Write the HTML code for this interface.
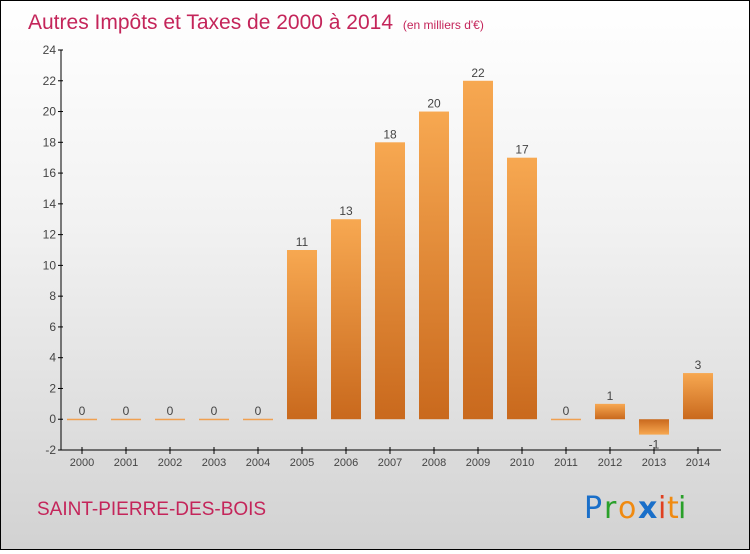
<!DOCTYPE html>
<html><head><meta charset="utf-8">
<style>
html,body{margin:0;padding:0;}
body{width:750px;height:550px;overflow:hidden;font-family:"Liberation Sans","DejaVu Sans",sans-serif;}
#frame{position:absolute;left:0;top:0;width:748px;height:548px;border:1px solid #000;background:linear-gradient(#ffffff 0%,#f2f2f2 40%,#d2d2d2 100%);}
</style></head>
<body>
<div id="frame">
<svg id="chart" width="748" height="548" xmlns="http://www.w3.org/2000/svg">
<defs>
<linearGradient id="barg" x1="0" y1="0" x2="0" y2="1">
<stop offset="0" stop-color="#f7a851"/><stop offset="1" stop-color="#c9691d"/>
</linearGradient>
<linearGradient id="barn" x1="0" y1="0" x2="0" y2="1">
<stop offset="0" stop-color="#c9691d"/><stop offset="1" stop-color="#f7a851"/>
</linearGradient>
</defs>
<text x="27" y="28" font-size="21" fill="#c4255a">Autres Impôts et Taxes de 2000 à 2014 <tspan font-size="12" dx="4">(en milliers d'€)</tspan></text>
<g id="axes"></g>
<g id="bars"></g>
<text x="36" y="514" font-size="19" fill="#c4255a">SAINT-PIERRE-DES-BOIS</text>
<g font-size="30" font-family="'DejaVu Sans',sans-serif">
<text x="583" y="517" fill="#1a6fc9">P</text><text x="603" y="517" fill="#2aa02a">r</text><text x="617" y="517" fill="#f08a10">o</text><text x="637" y="517" fill="#1a6fc9" font-weight="bold">x</text><text x="657" y="517" fill="#e04020">i</text><text x="666" y="517" fill="#f08a10">t</text><text x="677" y="517" fill="#2aa02a">i</text>
</g>
</svg>
</div>
<script>
const years=["2000","2001","2002","2003","2004","2005","2006","2007","2008","2009","2010","2011","2012","2013","2014"];
const values=[0,0,0,0,0,11,13,18,20,22,17,0,1,-1,3];
const yTicks=[-2,0,2,4,6,8,10,12,14,16,18,20,22,24];
const NS="http://www.w3.org/2000/svg";
const yMin=-2,yMax=24,plotTop=49,plotBot=449,plotLeft=60,plotRight=720;
function yPos(v){return plotBot-(v-yMin)/(yMax-yMin)*(plotBot-plotTop);}
function xPos(i){return 81+i*44;}
function mk(t,a,p){const e=document.createElementNS(NS,t);for(const k in a)e.setAttribute(k,a[k]);p.appendChild(e);return e;}
const ax=document.getElementById('axes'),bg=document.getElementById('bars');
const yl=mk('line',{x1:plotLeft,y1:plotTop,x2:plotLeft,y2:plotBot,stroke:'#000'},ax);


const xl=mk('line',{x1:plotLeft,y1:plotBot,x2:plotRight,y2:plotBot,stroke:'#000'},ax);


yTicks.forEach(v=>{
 mk('line',{x1:plotLeft-3,y1:yPos(v),x2:plotLeft+2,y2:yPos(v),stroke:'#000'},ax);
 const t=mk('text',{x:plotLeft-5,y:yPos(v)+4,'text-anchor':'end','font-size':12,fill:'#444'},ax);
 t.textContent=v;
 
 
});
years.forEach((yr,i)=>{
 mk('line',{x1:xPos(i),y1:plotBot-3,x2:xPos(i),y2:plotBot+4,stroke:'#000'},ax);
 const t=mk('text',{x:xPos(i),y:plotBot+16,'text-anchor':'middle','font-size':11,fill:'#444'},ax);
 t.textContent=yr;
 
 
 const v=values[i];let r;
 if(v===0){r=mk('rect',{x:xPos(i)-15,y:yPos(0)-0.5,width:30,height:1.5,fill:'#f0a050'},bg);}
 else{const y0=yPos(0),y1=yPos(v);r=mk('rect',{x:xPos(i)-15,y:Math.min(y0,y1),width:30,height:Math.abs(y1-y0),fill:v>0?'url(#barg)':'url(#barn)'},bg);}
 
 
 const l=mk('text',{x:xPos(i),y:v<0?yPos(v)+14:yPos(v)-4,'text-anchor':'middle','font-size':12,fill:'#444'},bg);
 l.textContent=v;
 
 
});
</script>
</body></html>
